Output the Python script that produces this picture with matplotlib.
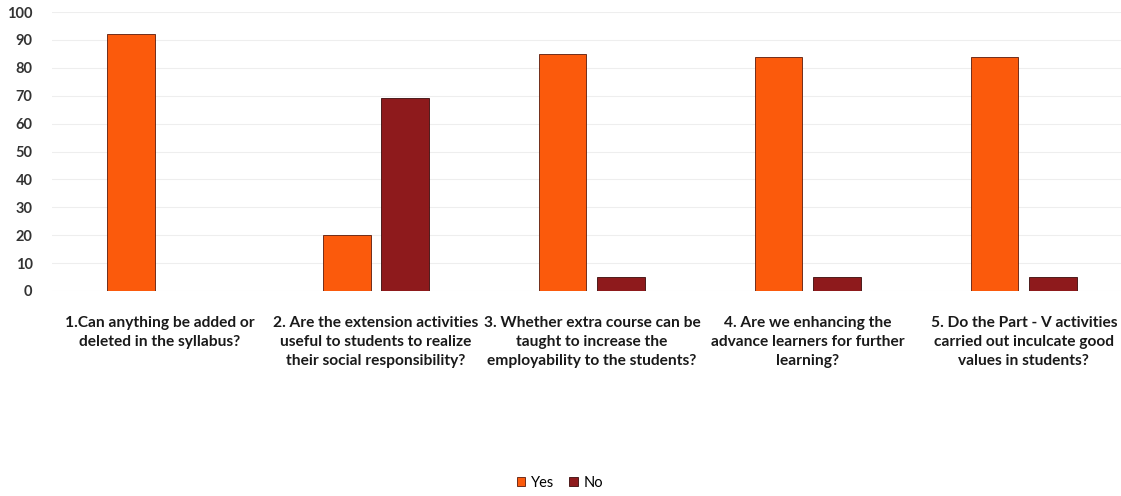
import numpy as np
import matplotlib.pyplot as plt

# survey questions and responses (%)
questions = [
    "1.Can anything be added or\ndeleted in the syllabus?",
    "2. Are the extension activities\nuseful to students to realize\ntheir social responsibility?",
    "3. Whether extra course can be\ntaught to increase the\nemployability to the students?",
    "4. Are we enhancing the\nadvance learners for further\nlearning?",
    "5. Do the Part - V activities\ncarried out inculcate good\nvalues in students?",
]
yes_vals = [92, 20, 85, 84, 84]
no_vals = [0, 69, 5, 5, 5]
y_ticks = list(range(0, 101, 10))

yes_color = '#fb5a0c'
no_color = '#8e1a1c'

plt.rcParams['font.family'] = ['Lato', 'DejaVu Sans']

fig = plt.figure(figsize=(11.21, 4.96), dpi=100)
ax = fig.add_axes([52 / 1121, 1 - 291 / 496, 1 - 52 / 1121, (291 - 12) / 496])

x = np.arange(len(questions))
w = 0.22
off = 0.135
ax.bar(x - off, yes_vals, w, color=yes_color, edgecolor='#5a1a0a', linewidth=0.6, label='Yes', zorder=3)
ax.bar(x + off, no_vals, w, color=no_color, edgecolor='#3a0a0a', linewidth=0.6, label='No', zorder=3)

ax.set_xlim(-0.5, 4.45)
ax.set_ylim(0, 100)
ax.set_yticks(y_ticks)
ax.set_yticklabels([str(t) for t in y_ticks], fontsize=10.5, fontweight='bold', color='#333333')
ax.set_xticks(x)
ax.set_xticklabels(questions, fontsize=11.2, fontweight='bold', color='#1a1a1a', linespacing=1.45)
ax.tick_params(axis='both', length=0)
ax.tick_params(axis='x', pad=18)
ax.tick_params(axis='y', pad=14)
ax.yaxis.grid(True, color='#eeeeee', linewidth=0.8, zorder=0)
for s in ax.spines.values():
    s.set_visible(False)

fig.legend(loc='center', bbox_to_anchor=(560 / 1121, 1 - 483 / 496), ncol=2, frameon=False,
           fontsize=10.5, handlelength=0.6, handleheight=0.6, handletextpad=0.4, columnspacing=1.0)

fig.savefig('out.png', dpi=100)
